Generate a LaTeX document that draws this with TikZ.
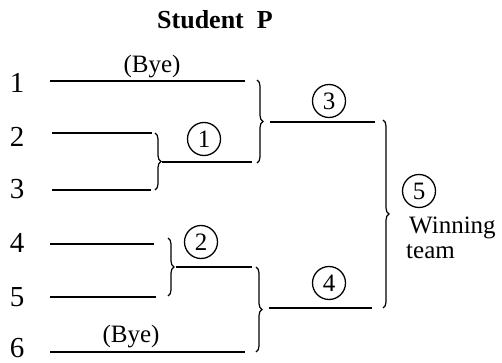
\documentclass[tikz,border=0pt]{standalone}
\usepackage{fontspec}
\setmainfont{Liberation Serif}
\usetikzlibrary{decorations.pathreplacing}
\begin{document}
\begin{tikzpicture}[x=1pt,y=-1pt,
  bline/.style={line width=1.8pt},
  bbrace/.style={line width=1.2pt,decorate,decoration={brace,amplitude=6pt}},
  num/.style={font=\fontsize{29}{30}\selectfont,inner sep=0pt},
  txt/.style={font=\fontsize{25}{27}\selectfont,inner sep=0pt},
  rnd/.style={circle,draw,line width=1.3pt,minimum size=33pt,inner sep=0pt,font=\fontsize{25}{26}\selectfont}]
\useasboundingbox (0,0) rectangle (502,363);
\node[inner sep=0pt,font=\fontsize{26}{28}\selectfont\bfseries] (title) at (215,20) {Student\ \ P};
% seed labels
\node[num] (n1) at (17,83) {1};
\node[num] (n2) at (17,137) {2};
\node[num] (n3) at (17,189) {3};
\node[num] (n4) at (17,243) {4};
\node[num] (n5) at (17,297) {5};
\node[num] (n6) at (17,348) {6};
% first column lines
\coordinate (a1) at (50,81);  \coordinate (b1) at (245,81);
\coordinate (a2) at (52,133); \coordinate (b2) at (152,133);
\coordinate (a3) at (52,190); \coordinate (b3) at (151,190);
\coordinate (a4) at (50,244); \coordinate (b4) at (154,244);
\coordinate (a5) at (50,297); \coordinate (b5) at (156,297);
\coordinate (a6) at (50,352); \coordinate (b6) at (245,352);
\draw[bline] (a1) -- (b1);
\draw[bline] (a2) -- (b2);
\draw[bline] (a3) -- (b3);
\draw[bline] (a4) -- (b4);
\draw[bline] (a5) -- (b5);
\draw[bline] (a6) -- (b6);
\node[txt] (bye1) at (152,67) {(Bye)};
\node[txt] (bye6) at (131,337) {(Bye)};
% match 1
\coordinate (m1t) at (155,133); \coordinate (m1b) at (155,190);
\draw[bbrace] (m1t) -- (m1b);
\coordinate (w1a) at (162,162); \coordinate (w1b) at (252,162);
\draw[bline] (w1a) -- (w1b);
\node[rnd] (c1) at (204,139) {1};
% match 2
\coordinate (m2t) at (168,238); \coordinate (m2b) at (168,296);
\draw[bbrace] (m2t) -- (m2b);
\coordinate (w2a) at (176,267); \coordinate (w2b) at (252,267);
\draw[bline] (w2a) -- (w2b);
\node[rnd] (c2) at (201,242) {2};
% match 3
\coordinate (m3t) at (257,80); \coordinate (m3b) at (257,163);
\draw[bbrace] (m3t) -- (m3b);
\coordinate (w3a) at (270,122); \coordinate (w3b) at (375,122);
\draw[bline] (w3a) -- (w3b);
\node[rnd] (c3) at (329,101) {3};
% match 4
\coordinate (m4t) at (256,267); \coordinate (m4b) at (256,352);
\draw[bbrace] (m4t) -- (m4b);
\coordinate (w4a) at (269,308); \coordinate (w4b) at (372,308);
\draw[bline] (w4a) -- (w4b);
\node[rnd] (c4) at (329,283) {4};
% final
\coordinate (m5t) at (383,120); \coordinate (m5b) at (383,308);
\draw[bbrace] (m5t) -- (m5b);
\node[rnd] (c5) at (419,191) {5};
\node[txt,anchor=west] (win) at (409,228) {Winning};
\node[txt,anchor=west] (team) at (406,252) {team};
\end{tikzpicture}
\end{document}
